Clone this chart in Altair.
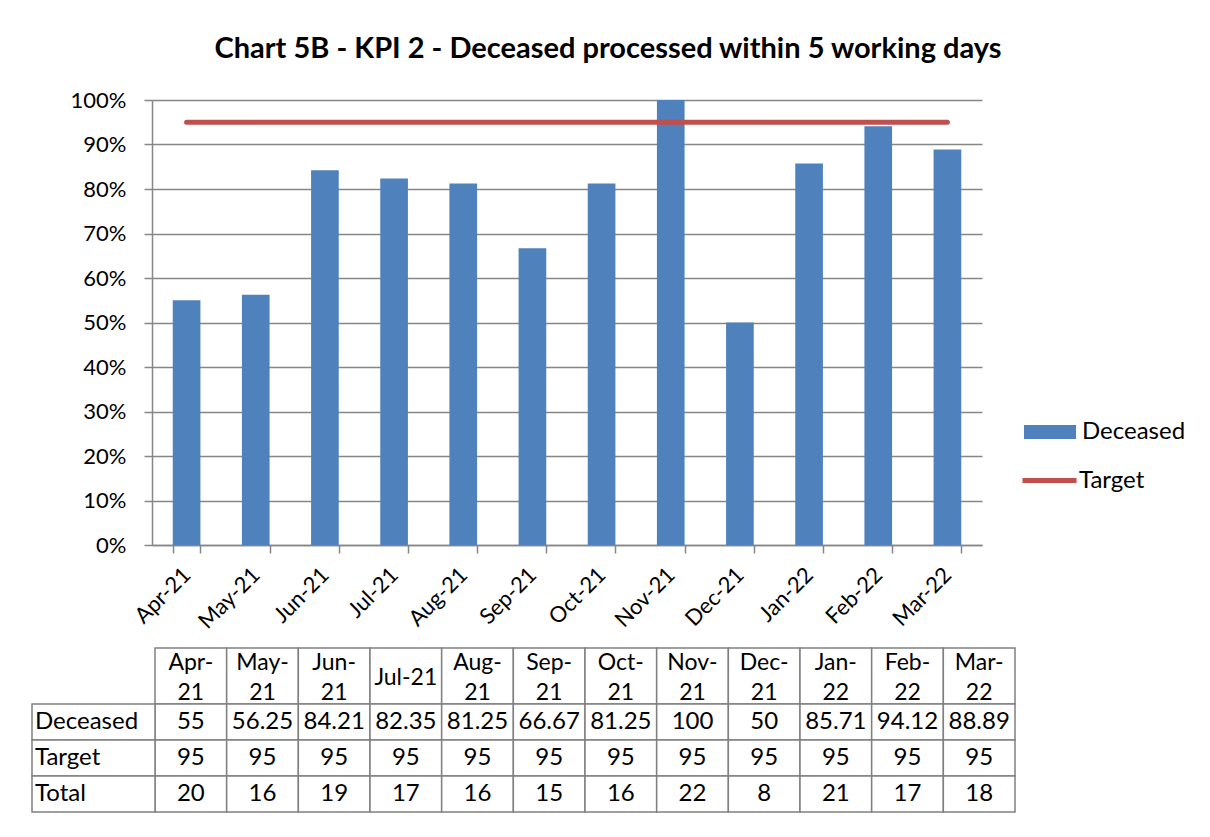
import altair as alt
import pandas as pd

# ---------------- data ----------------
months = ["Apr-21", "May-21", "Jun-21", "Jul-21", "Aug-21", "Sep-21",
          "Oct-21", "Nov-21", "Dec-21", "Jan-22", "Feb-22", "Mar-22"]
header_labels = ["Apr-\n21", "May-\n21", "Jun-\n21", "Jul-21", "Aug-\n21", "Sep-\n21",
                 "Oct-\n21", "Nov-\n21", "Dec-\n21", "Jan-\n22", "Feb-\n22", "Mar-\n22"]
deceased = [55, 56.25, 84.21, 82.35, 81.25, 66.67, 81.25, 100, 50, 85.71, 94.12, 88.89]
target = [95, 95, 95, 95, 95, 95, 95, 95, 95, 95, 95, 95]
total = [20, 16, 19, 17, 16, 15, 16, 22, 8, 21, 17, 18]
row_names = ["Deceased", "Target", "Total"]

# ---------------- styles ----------------
FONT = "Lato"
BLUE = "#4F81BD"
RED = "#C0504D"
GRID = "#868686"
TB = "#808080"
TXT = 24

bars_df = pd.DataFrame({"month": months, "pct": [v / 100 for v in deceased], "series": "Deceased"})
line_df = pd.DataFrame({"month": months, "pct": [v / 100 for v in target], "series": "Target"})

common_legend = dict(title=None, orient="none", padding=0, symbolSize=676,
                     labelFontSize=24, labelFont=FONT, labelColor="black", labelLimit=300)
fill_legend = alt.Legend(legendX=885, legendY=319, symbolType="M-2,-0.54H2V0.54H-2Z",
                         symbolStrokeWidth=0, labelOffset=19, **common_legend)
stroke_legend = alt.Legend(legendX=882, legendY=365, symbolType="M-2.08,0H2.08",
                           symbolStrokeWidth=5, labelOffset=14, **common_legend)

x_main = alt.X(
    "month:N", sort=months,
    scale=alt.Scale(domain=months, paddingInner=0.6, paddingOuter=0.3),
    axis=alt.Axis(title=None, labelAngle=315, labelAlign="right", labelBaseline="middle",
                  labelFontSize=22, labelFont=FONT, labelColor="black", labelPadding=18,
                  tickBand="extent", tickSize=8, tickColor=GRID, tickWidth=1.5,
                  domainColor=GRID, domainWidth=1.5, grid=False),
)
y_main = alt.Y(
    "pct:Q", scale=alt.Scale(domain=[0, 1]),
    axis=alt.Axis(title=None, format="%", values=[i / 10 for i in range(11)],
                  labelFontSize=22, labelFont=FONT, labelColor="black", labelPadding=18,
                  tickSize=8, tickColor=GRID, tickWidth=1.5,
                  domainColor=GRID, domainWidth=1.5,
                  grid=True, gridColor=GRID, gridWidth=1.5),
)

bars = alt.Chart(bars_df).mark_bar().encode(
    x=x_main, y=y_main,
    fill=alt.Fill("series:N", scale=alt.Scale(domain=["Deceased"], range=[BLUE]), legend=fill_legend),
)
line = alt.Chart(line_df).mark_line(strokeWidth=5, strokeCap="round").encode(
    x=x_main, y=y_main,
    stroke=alt.Stroke("series:N", scale=alt.Scale(domain=["Target"], range=[RED]), legend=stroke_legend),
)
main = alt.layer(bars, line).resolve_scale(fill="independent", stroke="independent")

# ---------------- data table ----------------
col_scale = alt.Scale(domain=months, range=[3, 863], paddingInner=0, paddingOuter=0)
hdr_scale = alt.Scale(domain=["hdr"], range=[548, 604], paddingInner=0, paddingOuter=0)
line_slots = ["l1", "mid", "l2"]
hline_scale = alt.Scale(domain=line_slots, range=[555, 600], paddingInner=0, paddingOuter=0)
row_scale = alt.Scale(domain=row_names, range=[604, 712], paddingInner=0, paddingOuter=0)
lab_scale = alt.Scale(domain=["label"], range=[-120, 3], paddingInner=0, paddingOuter=0)

# header cells
hdr_df = pd.DataFrame({"col": months, "hrow": "hdr"})
hx = alt.X("col:N", scale=col_scale, axis=None)
hdr_rect = alt.Chart(hdr_df).mark_rect(fill="white", stroke=TB, strokeWidth=1.5).encode(
    x=hx, y=alt.Y("hrow:N", scale=hdr_scale, axis=None))

hdr_lines = []
for m, lbl in zip(months, header_labels):
    parts = lbl.split("\n")
    if len(parts) == 2:
        hdr_lines.append({"col": m, "slot": "l1", "txt": parts[0]})
        hdr_lines.append({"col": m, "slot": "l2", "txt": parts[1]})
    else:
        hdr_lines.append({"col": m, "slot": "mid", "txt": parts[0]})
hdr_lines_df = pd.DataFrame(hdr_lines)
hdr_text = alt.Chart(hdr_lines_df).mark_text(fontSize=23, font=FONT, color="black",
                                             baseline="middle").encode(
    x=hx, y=alt.Y("slot:N", scale=hline_scale, axis=None), text="txt:N")
hdr = alt.layer(hdr_rect, hdr_text).resolve_scale(y="independent")

# body cells
body_records = []
for name, vals in zip(row_names, [deceased, target, total]):
    for m, v in zip(months, vals):
        body_records.append({"col": m, "row": name, "val": str(v)})
body_df = pd.DataFrame(body_records)
bx = alt.X("col:N", scale=col_scale, axis=None)
by = alt.Y("row:N", scale=row_scale, axis=None)
body_rect = alt.Chart(body_df).mark_rect(fill="white", stroke=TB, strokeWidth=1.5).encode(x=bx, y=by)
body_text = alt.Chart(body_df).mark_text(fontSize=TXT, font=FONT, color="black",
                                         baseline="middle").encode(x=bx, y=by, text="val:N")
body = alt.layer(body_rect, body_text)

# row label column
lab_df = pd.DataFrame({"lab": "label", "row": row_names})
lx = alt.X("lab:N", scale=lab_scale, axis=None)
ly = alt.Y("row:N", scale=row_scale, axis=None)
lab_rect = alt.Chart(lab_df).mark_rect(fill="white", stroke=TB, strokeWidth=1.5).encode(x=lx, y=ly)
lab_text = alt.Chart(lab_df).mark_text(fontSize=TXT, font=FONT, color="black", align="left",
                                       baseline="middle", dx=3).encode(
    x=alt.X("lab:N", scale=lab_scale, axis=None, bandPosition=0), y=ly, text="row:N")
lab = alt.layer(lab_rect, lab_text)

chart = alt.layer(main, hdr, body, lab).resolve_scale(
    x="independent", y="independent"
).properties(
    width=830, height=445,
    title=alt.TitleParams(
        text="Chart 5B - KPI 2 - Deceased processed within 5 working days",
        fontSize=29, fontWeight="bold", font=FONT, color="black",
        anchor="middle", frame="group", dx=41, offset=2, baseline="alphabetic",
    ),
    padding={"left": 144, "top": 92, "right": 220, "bottom": 280},
    autosize=alt.AutoSizeParams(type="none"),
    background="white",
).configure_view(stroke=None)

chart.save("out.html", embed_options={"renderer": "svg", "actions": False})
